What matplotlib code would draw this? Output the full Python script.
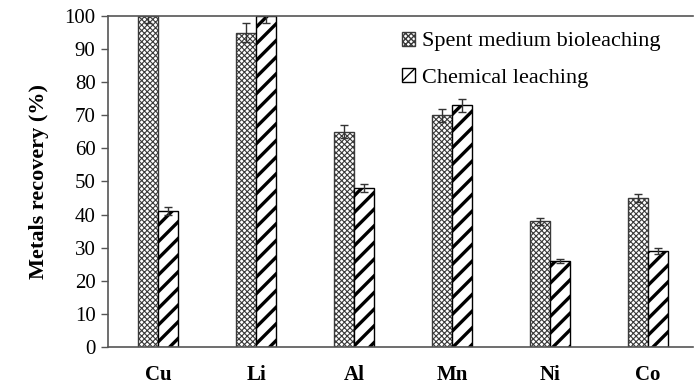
import matplotlib.pyplot as plt
import numpy as np

metals = ["Cu", "Li", "Al", "Mn", "Ni", "Co"]
bio = [100, 95, 65, 70, 38, 45]
bio_err = [2, 3, 2, 2, 1, 1.2]
chem = [41, 100, 48, 73, 26, 29]
chem_err = [1.2, 2, 1.2, 2, 0.7, 0.8]

plt.rcParams["font.family"] = ["Liberation Serif", "DejaVu Serif"]

fig = plt.figure(figsize=(6.95, 3.84), dpi=100)
ax = fig.add_axes([0.1554, 0.0964, 0.842, 0.862])

x = np.arange(len(metals))
w = 0.205

b1 = ax.bar(x - w / 2, bio, w, yerr=bio_err, color="white", edgecolor="#3a3a3a",
            hatch="xxxxxx", linewidth=1.0, capsize=3,
            error_kw=dict(ecolor="#333333", elinewidth=1, capthick=1),
            label="Spent medium bioleaching")
b2 = ax.bar(x + w / 2, chem, w, yerr=chem_err, color="white", edgecolor="black",
            hatch="//", linewidth=1.0, capsize=3,
            error_kw=dict(ecolor="#333333", elinewidth=1, capthick=1),
            label="Chemical leaching")
for p in b1:
    try:
        p.set_hatch_linewidth(0.8)
    except AttributeError:
        pass
for p in b2:
    try:
        p.set_hatch_linewidth(2.4)
    except AttributeError:
        pass

ax.set_xlim(-0.51, 5.46)
ax.set_ylim(0, 100)
ax.set_yticks(range(0, 101, 10))
ax.set_xticks(x)
ax.set_xticklabels(metals, fontsize=15, fontweight="bold")
ax.tick_params(axis="x", length=0, pad=13)
ax.tick_params(axis="y", labelsize=15, length=5, width=1, color="#555555", pad=4)
ax.set_ylabel("Metals recovery (%)", fontsize=16, fontweight="bold", labelpad=11)

for s in ["left", "bottom", "top"]:
    ax.spines[s].set_color("#555555")
    ax.spines[s].set_linewidth(1.2)
ax.spines["right"].set_visible(False)

ax.legend(loc="upper left", bbox_to_anchor=(0.475, 1.0), frameon=False, fontsize=16,
          handlelength=0.6, handleheight=0.6, handletextpad=0.3, labelspacing=0.75,
          borderaxespad=0.3)

fig.savefig("out.png", dpi=100)
